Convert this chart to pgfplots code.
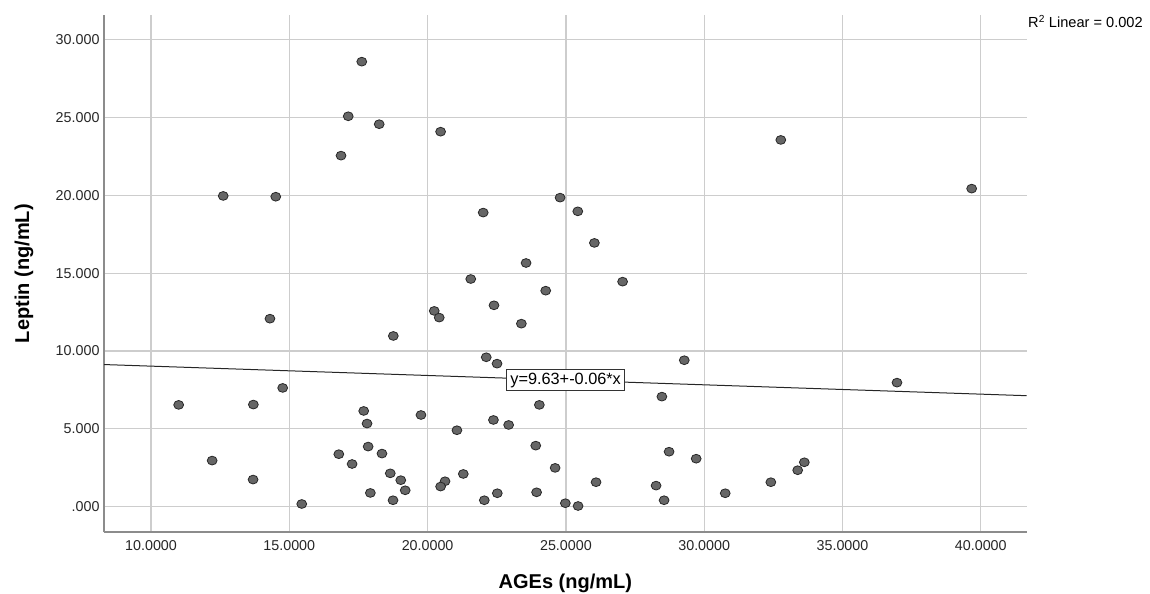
\documentclass[border=0pt]{standalone}
\usepackage{fontspec}
\setmainfont{Liberation Sans}
\usepackage{pgfplots}
\pgfplotsset{compat=1.18}
\definecolor{gridgray}{RGB}{205,205,205}
\definecolor{axisgray}{RGB}{140,140,140}
\definecolor{ptfill}{RGB}{102,102,102}
\definecolor{ptedge}{RGB}{40,40,40}
\begin{document}
\begin{tikzpicture}
\useasboundingbox (0,0) rectangle (1150bp,594bp);
\begin{axis}[
  at={(104bp,61.7bp)}, anchor=south west,
  scale only axis, width=922.7bp, height=517.3bp,
  xmin=8.3, xmax=41.66, ymin=-1.65, ymax=31.6,
  xtick={10,15,20,25,30,35,40},
  xticklabels={10.0000,15.0000,20.0000,25.0000,30.0000,35.0000,40.0000},
  ytick={0,5,10,15,20,25,30},
  yticklabels={.000,5.000,10.000,15.000,20.000,25.000,30.000},
  major tick length=0pt,
  grid=major,
  major grid style={draw=gridgray, line width=1.2bp},
  axis x line*=bottom, axis y line*=left,
  every outer x axis line/.append style={-},
  every outer y axis line/.append style={-},
  axis line style={-, draw=axisgray, line width=1.8bp},
  ticklabel style={font=\fontsize{14.3bp}{16bp}\selectfont, text=black!85},
  xticklabel style={yshift=-4.5bp},
  yticklabel style={xshift=-1bp},
  xlabel={AGEs (ng/mL)}, ylabel={Leptin (ng/mL)},
  label style={font=\fontsize{20bp}{24bp}\selectfont\bfseries},
  xlabel style={at={(axis description cs:0.5,-0.108)}, anchor=base},
  ylabel style={at={(axis description cs:-0.0867,0.5)}, anchor=center},
  clip=false,
]
\addplot[black!85, line width=1bp] coordinates {(8.3,9.132) (41.66,7.130)};
\addplot[only marks, mark=*, mark size=4.4bp,
  mark options={xscale=1.12, fill=ptfill, draw=ptedge, line width=0.8bp}]
coordinates {
(17.62,28.60) (17.13,25.09) (18.25,24.58) (20.47,24.10) (16.87,22.56)
(12.61,19.97) (14.51,19.92) (32.77,23.57) (39.67,20.44) (24.79,19.86)
(22.01,18.90) (25.43,18.98) (26.03,16.95) (23.56,15.66) (21.56,14.63)
(27.05,14.46) (24.27,13.88) (22.40,12.94) (23.39,11.76) (14.30,12.08)
(20.24,12.58) (20.42,12.15) (18.76,10.97) (22.12,9.60) (22.51,9.19)
(29.28,9.41) (36.97,7.97) (14.76,7.63) (28.47,7.07) (11.00,6.54)
(13.70,6.56) (24.04,6.54) (17.69,6.15) (19.76,5.89) (22.38,5.57)
(17.81,5.34) (22.93,5.25) (21.06,4.91) (23.91,3.92) (17.85,3.86)
(28.73,3.53) (16.79,3.37) (18.35,3.41) (29.71,3.08) (12.21,2.96)
(33.62,2.85) (17.27,2.74) (24.61,2.49) (33.38,2.34) (18.65,2.14)
(21.29,2.10) (13.69,1.74) (19.03,1.70) (20.63,1.63) (26.09,1.57)
(32.41,1.57) (28.26,1.35) (20.47,1.29) (19.19,1.05) (17.93,0.88)
(22.52,0.86) (23.94,0.92) (30.76,0.86) (18.75,0.41) (22.05,0.41)
(28.55,0.41) (24.98,0.22) (15.45,0.17) (25.44,0.04)
};
\node[draw=black!80, fill=white, line width=0.9bp, inner xsep=3.5bp, inner ysep=3bp,
  font=\fontsize{16.3bp}{19bp}\selectfont, anchor=center]
  at (axis cs:24.99,8.13) {y=9.63+-0.06*x};
\node[anchor=base west, inner sep=0pt, font=\fontsize{14.6bp}{17bp}\selectfont]
  at (rel axis cs:1.0014,0.975) {R\textsuperscript{2} Linear = 0.002};
\end{axis}
\end{tikzpicture}
\end{document}
